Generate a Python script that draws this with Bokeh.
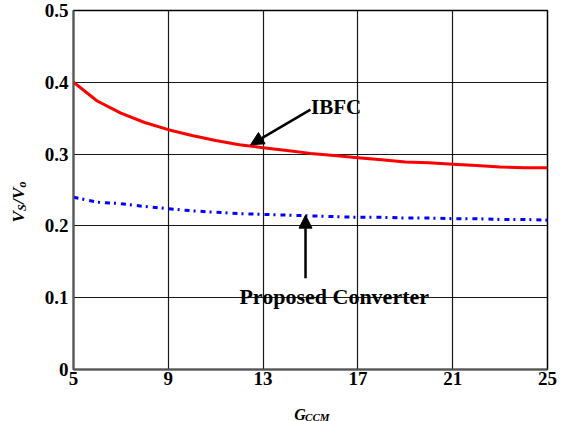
from bokeh.plotting import figure
from bokeh.models import FixedTicker, Label, Arrow, NormalHead, Range1d, Plot
from bokeh.layouts import row, column
from bokeh.embed import file_html
from bokeh.resources import INLINE
import math

# ---- data ----
g_ccm = [5, 6, 7, 8, 9, 10, 11, 12, 13, 14, 15, 16, 17, 18, 19, 20, 21, 22, 23, 24, 25]
ibfc = [0.400, 0.374, 0.357, 0.344, 0.334, 0.326, 0.319, 0.313, 0.309, 0.305, 0.301,
        0.298, 0.295, 0.292, 0.289, 0.288, 0.286, 0.284, 0.282, 0.281, 0.281]
proposed = [0.240, 0.233, 0.231, 0.227, 0.224, 0.221, 0.219, 0.217, 0.216, 0.215, 0.214,
            0.213, 0.212, 0.212, 0.211, 0.211, 0.210, 0.210, 0.209, 0.209, 0.208]
x_ticks = [5, 9, 13, 17, 21, 25]
y_ticks = [0, 0.1, 0.2, 0.3, 0.4, 0.5]
y_tick_labels = ["0", "0.1", "0.2", "0.3", "0.4", "0.5"]

FONT = "Liberation Serif"
W, H = 566, 421
LEFT_W = 38          # strip holding the y title
BOTTOM_H = 27        # strip holding the x title
FRAME_L, FRAME_R, FRAME_T, FRAME_B = 73, 547, 10, 369
DX = -8              # empirical horizontal correction for the title strips


def strip(width, height, xr, yr):
    return Plot(width=width, height=height, output_backend="svg", toolbar_location=None,
                x_range=Range1d(*xr), y_range=Range1d(*yr), title=None,
                min_border=0, min_border_left=0, min_border_right=0,
                min_border_top=0, min_border_bottom=0,
                outline_line_color=None, background_fill_color="white",
                border_fill_color="white")


def add_texts(f, items, angle=0.0):
    # items: (text, font px, canvas x, canvas y of baseline start)
    for txt, fs, bx, by in items:
        f.add_layout(Label(x=bx + DX, y=H - by, text=txt, angle=angle, text_font=FONT,
                           text_font_style="bold italic", text_font_size=f"{fs}px",
                           text_align="left", text_baseline="alphabetic",
                           text_color="black"))


# ---- main chart ----
p = figure(width=W - LEFT_W, height=H - BOTTOM_H, output_backend="svg", toolbar_location=None,
           x_range=Range1d(5, 25), y_range=Range1d(0, 0.5),
           min_border_left=FRAME_L - LEFT_W, min_border_right=W - FRAME_R,
           min_border_top=FRAME_T, min_border_bottom=H - BOTTOM_H - FRAME_B)
p.background_fill_color = "white"
p.border_fill_color = "white"
p.outline_line_color = "black"
p.outline_line_width = 1.5

for ax in (p.xaxis[0], p.yaxis[0]):
    ax.major_tick_line_color = None
    ax.minor_tick_line_color = None
    ax.major_tick_out = 0
    ax.major_tick_in = 0
    ax.minor_tick_out = 0
    ax.minor_tick_in = 0
    ax.axis_line_color = "#555555"
    ax.axis_line_width = 2
    ax.major_label_text_font = FONT
    ax.major_label_text_font_style = "bold"
    ax.major_label_text_font_size = "19px"
    ax.major_label_text_color = "black"

p.xaxis.ticker = FixedTicker(ticks=x_ticks)
p.yaxis.ticker = FixedTicker(ticks=y_ticks)
p.yaxis.major_label_overrides = {t: s for t, s in zip(y_ticks, y_tick_labels)}
p.xaxis.major_label_standoff = 2
p.yaxis.major_label_standoff = 5

p.xgrid.ticker = FixedTicker(ticks=x_ticks)
p.ygrid.ticker = FixedTicker(ticks=y_ticks)
for g in (p.xgrid[0], p.ygrid[0]):
    g.grid_line_color = "black"
    g.grid_line_width = 1.2
    g.grid_line_alpha = 0.9

p.line(g_ccm, ibfc, line_color="#ff0000", line_width=3)
p.line(g_ccm, proposed, line_color="#0000ff", line_width=3, line_dash="5 4 2 5")

# ---- annotations ----
head1 = NormalHead(size=13, fill_color="black", line_color="black")
p.add_layout(Arrow(end=head1, x_start=15.0, y_start=0.362, x_end=12.47, y_end=0.313,
                   line_color="black", line_width=2.5))
p.add_layout(Label(x=15.02, y=0.366, text="IBFC", text_font=FONT, text_font_style="bold",
                   text_font_size="21px", text_baseline="middle", text_align="left",
                   text_color="black"))

head2 = NormalHead(size=13, fill_color="black", line_color="black")
p.add_layout(Arrow(end=head2, x_start=14.79, y_start=0.127, x_end=14.79, y_end=0.215,
                   line_color="black", line_width=2.5))
p.add_layout(Label(x=16.0, y=(369 - 295) / 726, text="Proposed Converter", text_font=FONT,
                   text_font_style="bold", text_font_size="22px", text_baseline="alphabetic",
                   text_align="center", text_color="black"))

# ---- y title strip: V_S/V_o, rotated (coordinates = canvas pixels) ----
left = strip(LEFT_W, H, (0, LEFT_W), (0, H))
add_texts(left, [("V", 17, 26, 222), ("S", 12, 29, 210.5), ("/", 17, 26, 203.5),
                 ("V", 17, 26, 198.5), ("o", 12, 29, 187)], angle=math.pi / 2)

# ---- x title strip: G_CCM (coordinates = canvas pixels) ----
bottom = strip(W - LEFT_W, BOTTOM_H, (LEFT_W, W), (0, BOTTOM_H))
add_texts(bottom, [("G", 16, 292, 414), ("CCM", 11, 304, 416)])

layout = row(left, column(p, bottom, spacing=0), spacing=0)
open("out.html", "w").write(file_html(layout, INLINE))
